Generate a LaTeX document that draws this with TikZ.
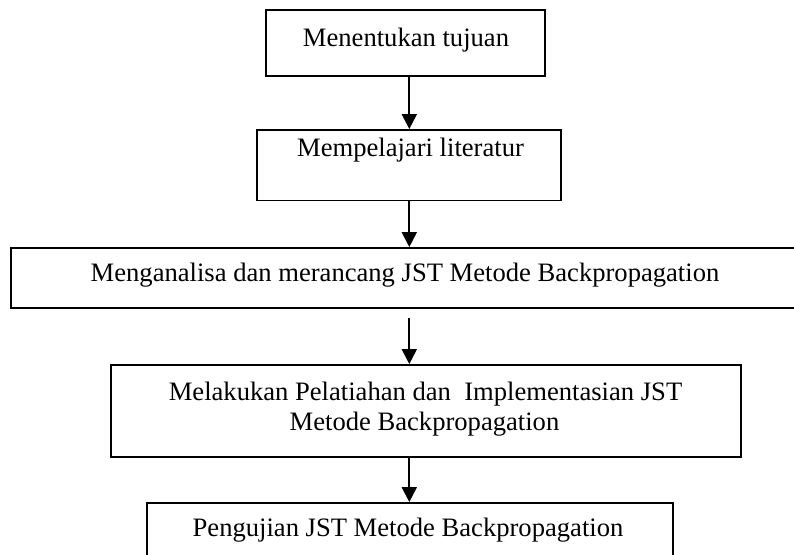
\documentclass[tikz,border=0pt]{standalone}
\usepackage{fontspec}
\setmainfont{Liberation Serif}
\usetikzlibrary{arrows.meta}
\begin{document}
\begin{tikzpicture}[x=1pt,y=-1pt,
  box/.style={draw=black, line width=1.9pt, rectangle, inner sep=0pt},
  txt/.style={inner sep=0pt, anchor=base, font=\fontsize{26.6}{30}\selectfont},
  arr/.style={line width=2pt, -{Triangle[length=15pt,width=15pt]}}]
\useasboundingbox (0,0) rectangle (794,554);
\clip (0,0) rectangle (794,554);
% boxes
\node[box, minimum width=279pt, minimum height=66pt] (b1) at (405.5,43) {};
\node[box, minimum width=304pt, minimum height=70.5pt] (b2) at (409,165.25) {};
\node[box, minimum width=804pt, minimum height=60pt] (b3) at (413,278) {};
\node[box, minimum width=630pt, minimum height=92pt] (b4) at (426,411) {};
\node[box, minimum width=526pt, minimum height=80pt] (b5) at (410,543) {};
% texts
\node[txt] (t1) at (406,46.7) {Menentukan tujuan};
\node[txt] (t2) at (410.5,156) {Mempelajari literatur};
\node[txt] (t3) at (405,281.7) {Menganalisa dan merancang JST Metode Backpropagation};
\node[txt] (t4a) at (425.5,400) {Melakukan Pelatiahan dan\ \ Implementasian JST};
\node[txt] (t4b) at (424.5,430) {Metode Backpropagation};
\node[txt] (t5) at (408,536) {Pengujian JST Metode Backpropagation};
% arrows
\coordinate (ax) at (409.3,0);
\draw[arr] (b1.south -| ax) -- (b2.north -| ax);
\draw[arr] (b2.south -| ax) -- (b3.north -| ax);
\draw[arr] ([yshift=-9pt]b3.south -| ax) -- (b4.north -| ax);
\draw[arr] (b4.south -| ax) -- (b5.north -| ax);
\end{tikzpicture}
\end{document}
